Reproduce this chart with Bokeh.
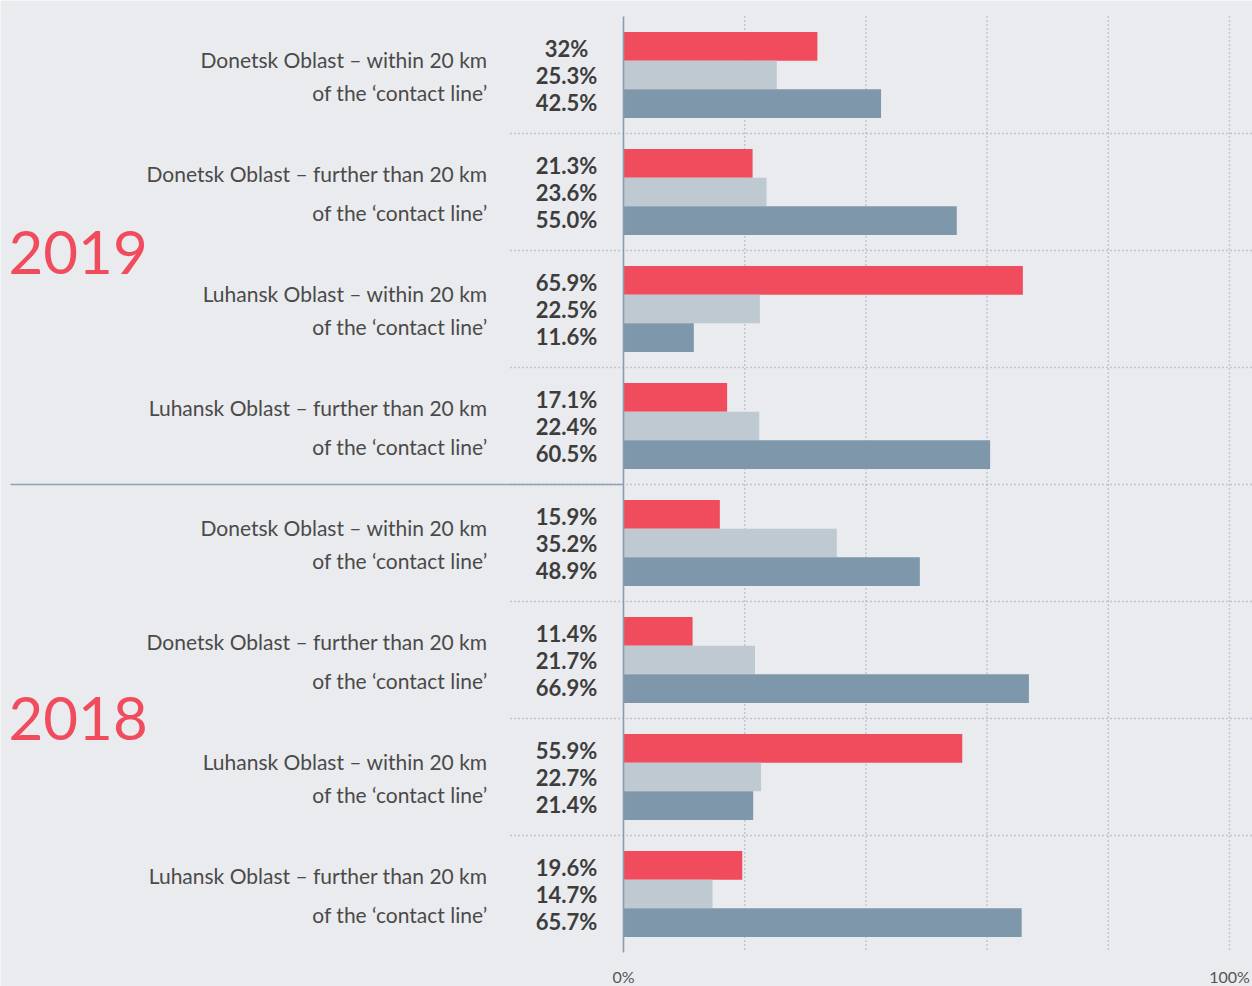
from bokeh.plotting import figure
from bokeh.models import Range1d, ColumnDataSource
from bokeh.core.properties import value
from bokeh.embed import file_html
from bokeh.resources import INLINE

# ---------------- data ----------------
regions = [
    "Donetsk Oblast – within 20 km",
    "Donetsk Oblast – further than 20 km",
    "Luhansk Oblast – within 20 km",
    "Luhansk Oblast – further than 20 km",
    "Donetsk Oblast – within 20 km",
    "Donetsk Oblast – further than 20 km",
    "Luhansk Oblast – within 20 km",
    "Luhansk Oblast – further than 20 km",
]
sub_label = "of the ‘contact line’"
years = ["2019", "2018"]
red_vals = [32.0, 21.3, 65.9, 17.1, 15.9, 11.4, 55.9, 19.6]
light_vals = [25.3, 23.6, 22.5, 22.4, 35.2, 21.7, 22.7, 14.7]
dark_vals = [42.5, 55.0, 11.6, 60.5, 48.9, 66.9, 21.4, 65.7]
red_labels = ["32%", "21.3%", "65.9%", "17.1%", "15.9%", "11.4%", "55.9%", "19.6%"]
light_labels = ["25.3%", "23.6%", "22.5%", "22.4%", "35.2%", "21.7%", "22.7%", "14.7%"]
dark_labels = ["42.5%", "55.0%", "11.6%", "60.5%", "48.9%", "66.9%", "21.4%", "65.7%"]
grid_ticks = [0, 20, 40, 60, 80, 100]
x_ticks = [0, 100]
x_tick_labels = ["0%", "100%"]

# ---------------- layout ----------------
W, H = 1252, 986
PX = 6.06          # pixels per percent
X0 = 623           # pixel of 0%
GROUP = 117        # pixels per group
Y0 = 74.5          # pixel of first group centre

def dx(px):
    return (px - X0) / PX

def dy(py):
    return (py - Y0) / GROUP

BG = "#eaebee"
RED = "#f04c5e"
LIGHT = "#bfc9d2"
DARK = "#7f97aa"
GRID = "#8fa2b4"
TXT = "#4a4a4a"
BOLD = "#3d3d3d"
FONT = "Lato"

p = figure(width=W, height=H, output_backend="svg", toolbar_location=None,
           x_range=Range1d(dx(0), dx(W)), y_range=Range1d(dy(H), dy(0)),
           x_axis_type=None, y_axis_type=None, min_border=0)
p.background_fill_color = BG
p.border_fill_color = BG
p.outline_line_color = None
p.grid.visible = False

n = len(regions)
idx = list(range(n))
bh = 0.245

# gridlines (dotted)
for t in grid_ticks[1:]:
    p.segment(x0=[t], y0=[-0.5], x1=[t], y1=[n - 0.5], line_color=GRID,
              line_width=1.4, line_dash="1 3")
seps = [i + 0.5 for i in range(n - 1)]
p.segment(x0=[dx(510)] * len(seps), y0=seps, x1=[dx(W)] * len(seps), y1=seps,
          line_color=GRID, line_width=1.4, line_dash="1 3")

src = ColumnDataSource(dict(
    y=idx,
    y_red=[i - bh for i in idx],
    y_dark=[i + bh for i in idx],
    red=red_vals, light=light_vals, dark=dark_vals,
))
p.hbar(y="y_red", left=0, right="red", height=bh, source=src, fill_color=RED, line_color=None)
p.hbar(y="y", left=0, right="light", height=bh, source=src, fill_color=LIGHT, line_color=None)
p.hbar(y="y_dark", left=0, right="dark", height=bh, source=src, fill_color=DARK, line_color=None)

# axis line at 0 and year separator
p.segment(x0=[0], y0=[-0.5], x1=[0], y1=[n - 0.5], line_color="#8a9bab", line_width=1.6)
p.segment(x0=[dx(10)], y0=[3.5], x1=[0], y1=[3.5], line_color="#8fa3b5", line_width=1.4)

# percentage labels
lx = dx(566)
ls = 0.233
lab_src = ColumnDataSource(dict(
    x=[lx] * (3 * n),
    y=[i + 0.005 - ls for i in idx] + [i + 0.005 for i in idx] + [i + 0.005 + ls for i in idx],
    t=red_labels + light_labels + dark_labels,
))
p.text(x="x", y="y", text="t", source=lab_src, text_align="center", text_baseline="middle",
       text_font=value(FONT), text_font_style="bold", text_font_size="22px", text_color=BOLD)

# category labels (two lines; the longer "further than" labels sit a little wider apart)
cx = dx(487)
up = [i - (0.155 if "further" in r else 0.135) for i, r in zip(idx, regions)]
down = [i + (0.175 if "further" in r else 0.15) for i, r in zip(idx, regions)]
p.text(x=[cx] * n, y=up, text=regions, text_align="right",
       text_baseline="middle", text_font=value(FONT), text_font_size="21px", text_color=TXT)
p.text(x=[cx] * n, y=down, text=[sub_label] * n, text_align="right",
       text_baseline="middle", text_font=value(FONT), text_font_size="21px", text_color=TXT)

# year labels
p.text(x=[dx(8), dx(8)], y=[dy(252), dy(718)], text=years, text_align="left",
       text_baseline="middle", text_font=value(FONT), text_font_size="60px",
       text_color=RED)

# x tick labels
p.text(x=x_ticks, y=[dy(976)] * 2, text=x_tick_labels, text_align="center",
       text_baseline="middle", text_font=value(FONT), text_font_size="16px",
       text_color="#555555")

open("out.html", "w").write(file_html(p, INLINE))
